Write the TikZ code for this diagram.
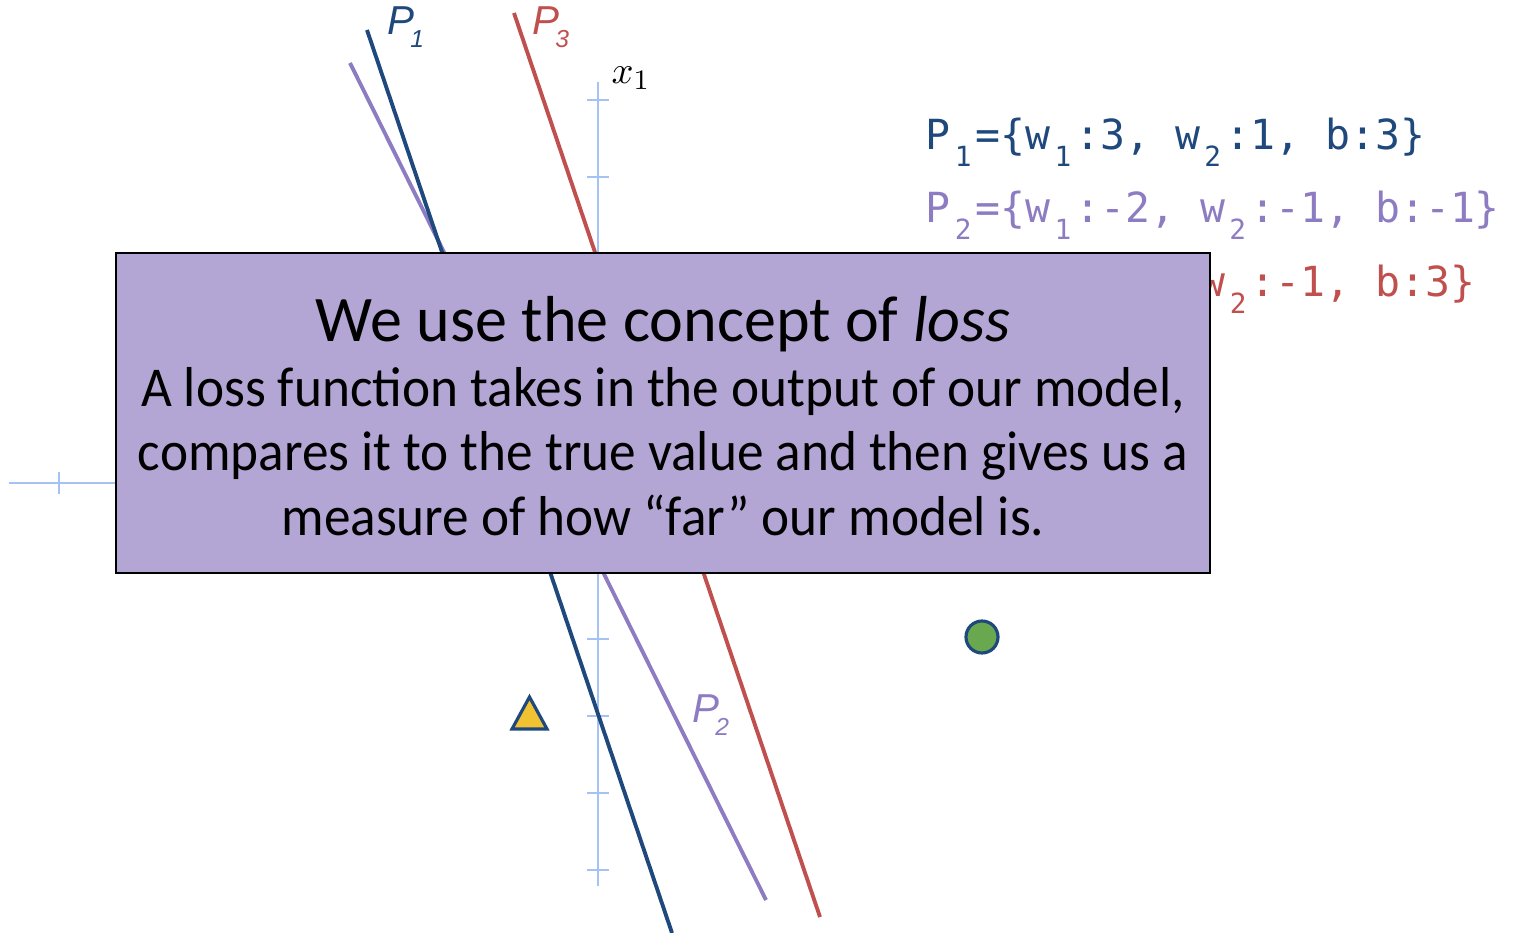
\documentclass[tikz,border=0pt]{standalone}
\usepackage{fontspec}
\setmainfont{Carlito}
\newfontfamily\monof{DejaVu Sans Mono}
\newfontfamily\arialf{Liberation Sans}
\usetikzlibrary{calc}
\definecolor{pblue}{RGB}{31,73,125}
\definecolor{pred}{RGB}{192,80,77}
\definecolor{ppurple}{RGB}{142,124,195}
\definecolor{axisblue}{RGB}{164,194,244}
\definecolor{boxfill}{RGB}{179,166,212}
\definecolor{tgold}{RGB}{241,194,50}
\definecolor{cgreen}{RGB}{106,168,79}
\newcommand\msub[1]{\makebox[0.602em][c]{\raisebox{-0.4em}{\fontsize{7.9pt}{8pt}\selectfont #1}}}
\newcommand\lsub[1]{\kern-1.2pt\raisebox{-0.13cm}{\fontsize{7pt}{8pt}\selectfont #1}}
\tikzset{
  axisline/.style={draw=axisblue, line width=0.8pt},
  sepline/.style={line width=1.1pt},
  plabel/.style={anchor=base west, inner sep=0pt, font=\arialf\itshape\fontsize{11.5pt}{13pt}\selectfont},
  monotext/.style={anchor=base west, inner sep=0pt, font=\monof\fontsize{11.8pt}{14pt}\selectfont},
  lossbox/.style={draw=black, line width=0.7pt, fill=boxfill, minimum width=10.94cm, minimum height=3.20cm, inner sep=0pt},
  boxtitle/.style={anchor=base, inner sep=0pt, font=\fontsize{18.5pt}{22pt}\selectfont},
  boxbody/.style={anchor=base, inner sep=0pt, font=\fontsize{16pt}{19pt}\selectfont},
}
\begin{document}
\begin{tikzpicture}
\useasboundingbox (0,0) rectangle (15.18,-9.33);
% axes
\coordinate (vtop) at (5.98,-0.82);
\coordinate (vbot) at (5.98,-8.86);
\coordinate (hleft) at (0.09,-4.83);
\coordinate (hright) at (11.87,-4.83);
\draw[axisline] (vtop) -- (vbot);
\draw[axisline] (hleft) -- (hright);
\foreach \k in {0,...,10} {
  \draw[axisline] ($(5.87,-1.00)+(0,-0.77*\k)$) -- ++(0.22,0);
}
\foreach \k in {0,...,14} {
  \draw[axisline] ($(0.59,-4.72)+(0.77*\k,0)$) -- ++(0,-0.22);
}
% separating lines
\coordinate (p1a) at (3.67,-0.30);
\coordinate (p1b) at (6.72,-9.33);
\coordinate (p2a) at (3.50,-0.63);
\coordinate (p2b) at (7.66,-9.00);
\coordinate (p3a) at (5.14,-0.13);
\coordinate (p3b) at (8.20,-9.17);
\draw[sepline, draw=ppurple] (p2a) -- (p2b);
\draw[sepline, draw=pblue] (p1a) -- (p1b);
\draw[sepline, draw=pred] (p3a) -- (p3b);
% labels
\node[plabel, text=pblue] (lp1) at (3.87,-0.35) {P\lsub{1}};
\node[plabel, text=pred] (lp3) at (5.32,-0.35) {P\lsub{3}};
\node[plabel, text=ppurple] (lp2) at (6.92,-7.23) {P\lsub{2}};
\node[anchor=base west, inner sep=0pt, font=\fontsize{11pt}{13pt}\selectfont] (x1lab) at (6.11,-0.84) {$x_1$};
% data points
\draw[draw=pblue, line width=0.9pt, fill=tgold, line join=miter] (5.12,-7.29) -- (5.47,-7.29) -- (5.295,-6.97) -- cycle;
\node[circle, draw=pblue, line width=0.9pt, fill=cgreen, minimum size=0.32cm, inner sep=0pt] (pt) at (9.82,-6.37) {};
% parameter texts
\frenchspacing
\node[monotext, text=pblue] (t1) at (9.25,-1.50) {P\msub{1}=\{w\msub{1}:3, w\msub{2}:1, b:3\}};
\node[monotext, text=ppurple] (t2) at (9.25,-2.23) {P\msub{2}=\{w\msub{1}:-2, w\msub{2}:-1, b:-1\}};
\node[monotext, text=pred] (t3) at (12.00,-2.97) {w\msub{2}:-1, b:3\}};
% box
\node[lossbox] (box) at (6.63,-4.13) {};
\node[boxtitle] (bt) at (6.63,-3.42) {\scalebox{0.985}[1]{We use the concept of \textit{loss}}};
\node[boxbody] (b1) at (6.63,-4.07) {\scalebox{0.947}[1]{A loss function takes in the output of our model,}};
\node[boxbody] (b2) at (6.63,-4.71) {\scalebox{0.947}[1]{compares it to the true value and then gives us a}};
\node[boxbody] (b3) at (6.63,-5.35) {\scalebox{0.947}[1]{measure of how “far” our model is.}};
\end{tikzpicture}
\end{document}
